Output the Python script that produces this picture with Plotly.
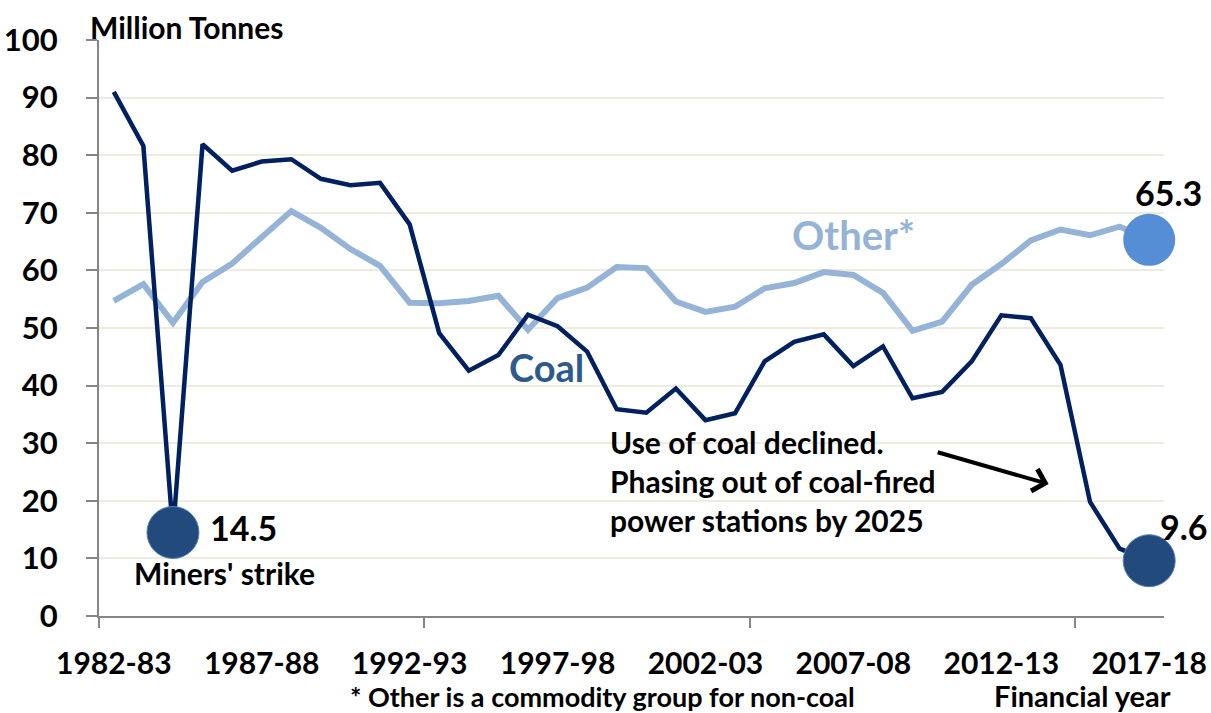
import plotly.graph_objects as go

years = [f"{y}-{str(y+1)[-2:]}" for y in range(1982, 2018)]
coal = [91.0, 81.6, 14.5, 81.9, 77.3, 78.9, 79.3, 75.9, 74.8, 75.2, 68.0, 49.1,
        42.6, 45.3, 52.3, 50.3, 45.9, 35.9, 35.3, 39.5, 34.0, 35.2, 44.2, 47.6,
        48.9, 43.4, 46.8, 37.8, 38.9, 44.2, 52.2, 51.7, 43.6, 19.8, 11.7, 9.6]
other = [54.7, 57.6, 50.9, 58.0, 61.2, 65.7, 70.3, 67.4, 63.7, 60.8, 54.4, 54.3,
         54.7, 55.6, 49.7, 55.2, 57.0, 60.6, 60.4, 54.6, 52.8, 53.7, 56.9, 57.8,
         59.7, 59.2, 56.1, 49.5, 51.1, 57.5, 61.1, 65.2, 67.1, 66.1, 67.6, 65.3]
tick_labels = ["1982-83", "1987-88", "1992-93", "1997-98", "2002-03", "2007-08", "2012-13", "2017-18"]

idx = list(range(len(years)))
tick_idx = [years.index(t) for t in tick_labels]

FONT = "Lato"
COAL_LINE = "#002060"
OTHER_LINE = "#95B3D7"
COAL_DOT = "#234A7C"
OTHER_DOT = "#558ED5"

fig = go.Figure()
fig.add_trace(go.Scatter(x=idx, y=other, mode="lines", cliponaxis=False,
                         line=dict(color=OTHER_LINE, width=6), hoverinfo="skip"))
fig.add_trace(go.Scatter(x=idx, y=coal, mode="lines", cliponaxis=False,
                         line=dict(color=COAL_LINE, width=4.5), hoverinfo="skip"))
hl_coal = [2, len(years) - 1]
fig.add_trace(go.Scatter(x=hl_coal, y=[coal[i] for i in hl_coal], mode="markers", cliponaxis=False,
                         marker=dict(size=52, color=COAL_DOT, line=dict(color="#4F81BD", width=1)),
                         hoverinfo="skip"))
fig.add_trace(go.Scatter(x=[len(years) - 1], y=[other[-1]], mode="markers", cliponaxis=False,
                         marker=dict(size=52, color=OTHER_DOT, line=dict(width=0)), hoverinfo="skip"))

W, H = 1211, 713
ML, MR, MT, MB = 99, 47, 40, 97

ann = []
def A(x, y, text, size, color="black", xanchor="center", yanchor="middle", xref="x", yref="y",
      align="center", xshift=0):
    if xref == "paper":
        x = (x - ML) / (W - ML - MR)
    if yref == "paper":
        y = 1 - (y - MT) / (H - MT - MB)
    ann.append(dict(x=x, y=y, text=text, showarrow=False, xref=xref, yref=yref,
                    xanchor=xanchor, yanchor=yanchor, align=align, xshift=xshift,
                    font=dict(family=FONT, size=size, color=color, weight="bold")))

A(88, 27, "Million Tonnes", 30, xanchor="left", xref="paper", yref="paper")
A(3.2, 15.3, f"{coal[2]}", 34, xanchor="left")
A(0.6, 7.5, "Miners' strike", 30, xanchor="left")
A(13.3, 43.2, "Coal", 38, color="#2C5A8C", xanchor="left")
A(22.85, 66.1, "Other*", 40, color=OTHER_LINE, xanchor="left")
A(35, 73.6, f"{other[-1]}", 34, xshift=19)
A(35, 15.5, f"{coal[-1]}", 34, xanchor="left", xshift=9)
A(16.7, 23.4, "Use of coal declined.<br>Phasing out of coal-fired<br>power stations by 2025", 30,
  xanchor="left", align="left")
A(602, 696, "* Other is a commodity group for non-coal", 27, xref="paper", yref="paper")
A(1082, 695, "Financial year", 29, xref="paper", yref="paper")

ann.append(dict(x=31.6, y=22.9, ax=27.8, ay=28.5, xref="x", yref="y", axref="x", ayref="y",
                showarrow=True, arrowhead=4, arrowsize=1.1, arrowwidth=4, arrowcolor="black", text=""))

fig.update_layout(
    width=W, height=H,
    margin=dict(l=ML, r=MR, t=MT, b=MB),
    plot_bgcolor="white", paper_bgcolor="white",
    showlegend=False,
    hovermode=False,
    annotations=ann,
    font=dict(family=FONT, color="black"),
    xaxis=dict(range=[-0.5, 35.5], tickvals=tick_idx, ticktext=tick_labels, automargin=False,
               ticks="", ticklabelstandoff=20, showgrid=False, zeroline=False,
               showline=True, linecolor="#868686", linewidth=2,
               tickfont=dict(family=FONT, size=30, color="black", weight="bold"),
               minor=dict(tickvals=[-0.5, 10.5, 21.5, 32.5], ticks="outside", ticklen=10,
                          tickcolor="#868686", tickwidth=2, showgrid=False)),
    yaxis=dict(range=[0, 100], dtick=10, ticks="outside", ticklen=11, tickcolor="#868686", tickwidth=2,
               automargin=False,
               ticklabelstandoff=22, showgrid=True, gridcolor="#EEECE1", gridwidth=2, zeroline=False,
               showline=True, linecolor="#868686", linewidth=2,
               tickfont=dict(family=FONT, size=31, color="black", weight="bold")),
)
fig.write_html("out.html", config={"displayModeBar": False},
               post_script="document.body.style.margin='0';document.body.style.overflow='hidden';")
